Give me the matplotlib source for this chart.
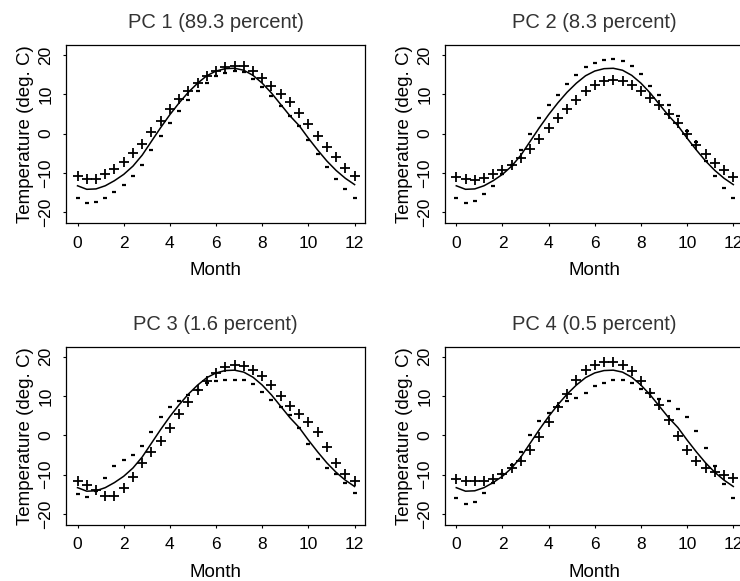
import matplotlib
matplotlib.use('Agg')
import matplotlib.pyplot as plt

plt.rcParams['font.family'] = ['Liberation Sans', 'DejaVu Sans']

months = [0.0, 0.4, 0.8, 1.2, 1.6, 2.0, 2.4, 2.8, 3.2, 3.6, 4.0, 4.4, 4.8, 5.2, 5.6, 6.0,
          6.4, 6.8, 7.2, 7.6, 8.0, 8.4, 8.8, 9.2, 9.6, 10.0, 10.4, 10.8, 11.2, 11.6, 12.0]

# mean temperature curve
mean_temp = [-13.3, -14.2, -14.1, -13.3, -12.0, -10.4, -8.3, -5.5, -2.0, 1.5, 4.8, 7.8, 10.5,
             12.8, 14.7, 15.9, 16.5, 16.6, 16.1, 14.8, 12.8, 10.3, 7.4, 4.5, 2.0, -1.2, -4.2,
             -7.0, -9.4, -11.4, -13.0]

titles = ['PC 1 (89.3 percent)', 'PC 2 (8.3 percent)', 'PC 3 (1.6 percent)', 'PC 4 (0.5 percent)']

# mean + multiple of each PC
pc1_plus = [-10.7, -11.6, -11.6, -10.4, -9.0, -7.2, -5.0, -2.6, 0.4, 3.3, 6.3, 8.7, 10.8, 12.9,
            14.7, 16.0, 16.9, 17.2, 17.1, 16.0, 14.2, 12.2, 10.0, 7.9, 5.1, 2.3, -0.7, -3.5,
            -6.1, -8.7, -10.7]
pc2_plus = [-11.0, -11.6, -11.8, -11.4, -10.4, -9.4, -8.1, -6.3, -3.9, -1.3, 1.4, 3.9, 6.3, 8.5,
            10.7, 12.3, 13.3, 13.7, 13.4, 12.4, 10.9, 9.1, 7.2, 4.9, 2.6, -0.2, -2.8, -5.1,
            -7.6, -9.3, -11.0]
pc3_plus = [-11.6, -12.6, -13.8, -15.3, -15.4, -13.5, -10.5, -7.0, -4.2, -1.4, 1.8, 5.4, 8.6,
            11.6, 13.8, 15.9, 17.5, 18.0, 17.7, 16.6, 15.0, 12.9, 10.0, 7.4, 5.4, 3.4, 0.8,
            -3.0, -7.0, -9.8, -11.6]
pc4_plus = [-11.0, -11.5, -11.7, -11.6, -11.2, -9.8, -8.4, -6.5, -3.7, -0.4, 3.3, 7.1, 10.6,
            14.1, 16.6, 18.0, 18.6, 18.6, 17.9, 16.3, 13.8, 10.9, 7.7, 3.8, -0.2, -3.7, -6.5,
            -8.4, -9.2, -10.1, -10.8]

# mean - multiple of each PC
pc1_minus = [-16.5, -17.6, -17.4, -16.3, -14.8, -13.1, -10.8, -7.9, -4.1, -0.6, 2.7, 5.6, 8.4,
             10.8, 12.9, 14.7, 15.5, 15.9, 15.6, 13.9, 11.9, 9.6, 7.1, 4.5, 1.8, -1.6, -5.1,
             -8.5, -11.6, -14.2, -16.4]
pc2_minus = [-16.3, -17.6, -17.1, -15.4, -13.3, -10.2, -8.0, -4.3, -0.2, 3.9, 7.2, 9.9, 12.7,
             15.0, 16.8, 17.9, 18.6, 18.9, 18.4, 17.1, 15.1, 12.2, 9.8, 7.2, 4.4, 0.7, -2.1,
             -7.0, -10.7, -13.8, -16.3]
pc3_minus = [-14.8, -15.8, -14.2, -10.8, -7.8, -6.2, -5.0, -2.8, 0.8, 4.6, 7.2, 8.8, 10.2,
             11.6, 13.4, 13.8, 14.2, 14.2, 14.0, 13.0, 11.0, 8.9, 7.2, 5.2, 2.0, -2.2, -6.0,
             -8.4, -9.8, -12.0, -14.6]
pc4_minus = [-15.9, -17.5, -16.9, -14.7, -12.2, -9.8, -7.6, -4.3, 0.0, 3.6, 5.7, 7.5, 8.7, 9.5,
             10.9, 12.5, 13.4, 14.1, 14.1, 13.3, 11.9, 10.7, 9.3, 8.7, 6.8, 4.6, 1.1, -3.3,
             -7.8, -12.4, -15.9]

plus_series = [pc1_plus, pc2_plus, pc3_plus, pc4_plus]
minus_series = [pc1_minus, pc2_minus, pc3_minus, pc4_minus]

fig = plt.figure(figsize=(7.4, 5.81), dpi=100)
lefts = [0.0892, 0.601, 0.0892, 0.601]
bottoms = [0.616, 0.616, 0.0964, 0.0964]

for i in range(4):
    ax = fig.add_axes([lefts[i], bottoms[i], 0.404, 0.3064])
    ax.plot(months, mean_temp, color='black', lw=1.1)
    ax.plot(months, plus_series[i], linestyle='none', marker='+', markersize=7.5,
            markeredgewidth=1.3, color='black')
    ax.plot(months, minus_series[i], linestyle='none', marker='_', markersize=3.5,
            markeredgewidth=1.6, color='black')
    ax.set_xlim(-0.5, 12.45)
    ax.set_ylim(-22.8, 22.5)
    ax.set_xticks([0, 2, 4, 6, 8, 10, 12])
    ax.set_yticks([-20, -10, 0, 10, 20])
    ax.tick_params(axis='both', length=2, width=0.8, labelsize=12.5, pad=7)
    for lab in ax.get_yticklabels():
        lab.set_rotation(90)
        lab.set_va('center')
    ax.set_xlabel('Month', fontsize=13.5, labelpad=8)
    ax.set_ylabel('Temperature (deg. C)', fontsize=13.5, labelpad=3)
    ax.set_title(titles[i], fontsize=14.5, color='#333333', pad=12)
    for s in ax.spines.values():
        s.set_linewidth(0.9)

fig.savefig('out.png', dpi=100)
